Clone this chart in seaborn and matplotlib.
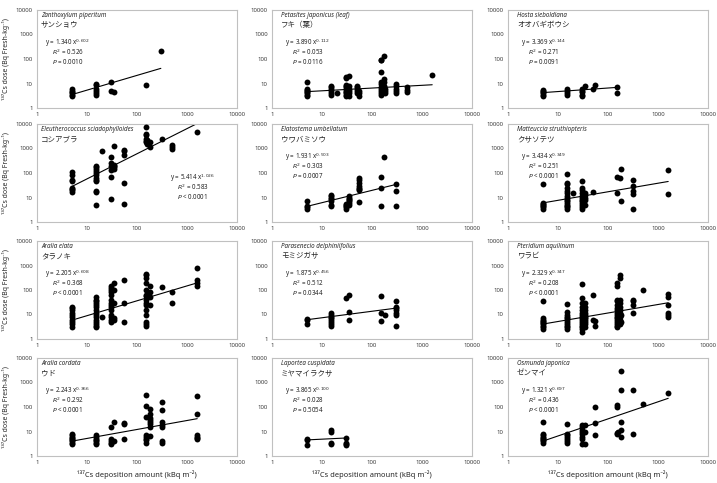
import matplotlib
matplotlib.use("Agg")
import matplotlib.pyplot as plt
import seaborn as sns
import numpy as np
import pandas as pd

zan_pts = {5: [3, 3.5, 4, 4.5, 5, 6], 15: [3.5, 4, 5, 6, 9, 10], 30: [12, 5], 35: [4.5],
           150: [9], 300: [210]}
pet_pts = {5: [3, 3.5, 4, 4.5, 5, 5.5, 6, 12], 15: [3.5, 4, 5, 6, 7, 8], 20: [4],
           30: [3, 3.5, 4, 4.5, 5, 6, 7, 8, 9, 17, 18], 35: [3, 4, 5, 6, 8, 20],
           50: [4, 5, 6, 7, 8], 55: [3, 4, 5], 150: [3.5, 4, 5, 6, 7, 10, 12, 30, 90, 95],
           170: [5, 6, 7, 8, 12, 15, 130], 180: [4, 5, 6], 300: [4, 5, 6, 8, 10],
           500: [4.5, 5.5, 7], 1600: [22]}
hos_pts = {5: [3, 3.5, 4, 4.5, 5, 5.5], 15: [3.5, 4, 5, 6], 30: [3, 3.5, 4.5, 5, 6],
           35: [8], 50: [6], 55: [9], 150: [4, 7]}
ele_pts = {5: [17, 20, 22, 25, 45, 50, 80, 110],
           15: [5, 17, 18, 45, 50, 60, 80, 100, 120, 150, 180, 200], 20: [800],
           30: [9, 70, 130, 200, 250, 450], 35: [150, 180, 200, 220, 1300],
           55: [5.5, 40, 550, 800, 900], 150: [1800, 2000, 2500, 3500, 4000, 7500],
           160: [1500, 2200], 180: [1100, 1800], 310: [2400], 500: [1000, 1200, 1400],
           1600: [4800]}
ela_pts = {5: [3.5, 4, 4.5, 7.5], 15: [4.5, 5, 7, 9, 10, 12, 13], 30: [3.5, 4, 4.5, 5, 5.5],
           35: [5, 6, 7, 8, 9, 10, 11], 55: [6.5, 20, 22, 25, 30, 40, 50, 60],
           150: [4.5, 25, 70], 170: [450], 300: [4.5, 18, 35]}
mat_pts = {5: [3.5, 4, 4.5, 5, 5.5, 6, 35],
           15: [3.5, 4, 4.5, 5, 6, 7, 8, 10, 12, 15, 18, 25, 35, 40, 90], 20: [15],
           30: [3.5, 4, 5, 6, 7, 8, 10, 12, 15, 20, 25, 45], 35: [5, 8, 10, 13, 15],
           50: [17], 150: [15, 70], 170: [60], 180: [7, 150], 310: [3.5, 14, 18, 30, 50],
           1600: [14, 130]}
ara_pts = {5: [3, 4, 5, 6, 8, 10, 12, 15, 18, 20],
           15: [3, 3.5, 4, 5, 6, 8, 10, 12, 15, 20, 25, 30, 35, 40, 50], 20: [8],
           30: [5, 6, 8, 10, 15, 20, 25, 30, 40, 60, 80, 100, 120, 150],
           35: [6, 7, 30, 100, 200], 55: [5, 30, 250],
           150: [3.5, 4, 5, 10, 15, 25, 30, 40, 55, 60, 100, 200, 300, 400, 450],
           180: [25, 50, 80, 150], 310: [130], 500: [30, 80], 1600: [150, 200, 250, 800]}
par_pts = {5: [4, 6, 6.5], 15: [3.5, 4, 5, 6, 7, 8, 10, 11], 30: [45], 35: [6, 13, 60],
           150: [5.5, 12, 55], 180: [10], 300: [3.5, 10, 12, 15, 18, 20, 35]}
pte_pts = {5: [2.5, 3, 3.5, 4, 4.5, 5, 5.5, 6, 7, 35],
           15: [2.5, 3, 3.5, 4, 5, 6, 7, 8, 10, 13, 27],
           30: [2, 2.5, 3, 3.5, 4, 5, 6, 7, 8, 10, 12, 15, 20, 30, 45, 170],
           35: [3, 4, 5, 6, 7, 8, 10, 12, 15, 20, 30], 50: [65, 6], 55: [3.5, 5.5],
           150: [3, 3.5, 4, 5, 6, 7, 8, 10, 12, 15, 18, 25, 35, 40, 150, 200],
           170: [4, 6, 8, 10, 12, 15, 20, 30, 40, 300, 400], 180: [5, 10],
           310: [12, 25, 35, 40], 500: [100], 1600: [8, 10, 12, 25, 50, 70]}
cor_pts = {5: [3, 3.5, 4, 4.5, 5, 5.5, 6, 7, 8], 15: [3, 3.5, 4, 4.5, 5, 6, 7],
           30: [3, 3.5, 4, 5, 15], 35: [4, 25], 55: [5, 20, 22],
           150: [3.5, 4.5, 5, 6, 7, 40, 110, 300], 170: [40],
           180: [6.5, 15, 20, 25, 30, 35, 50, 85], 310: [3.5, 4, 15, 18, 25, 75, 160],
           1600: [5, 5.5, 6, 7, 50, 270]}
lap_pts = {5: [2.7, 4.5, 5], 15: [3, 3.5, 10, 11], 30: [2.8, 3.2, 3.5, 5.5]}
osm_pts = {5: [3.5, 4, 4.5, 5, 5.5, 6, 7, 8, 25], 15: [3.5, 4, 5, 6, 7, 8, 20],
           30: [3, 5, 6, 8, 10, 12, 15, 18], 35: [3, 10, 18], 55: [7, 22, 100],
           150: [8, 9, 100, 120], 160: [10], 180: [6, 12, 25, 500, 3000],
           310: [8, 480], 500: [130], 1600: [380]}

latin = ["Zanthoxylum piperitum", "Petasites japonicus (leaf)", "Hosta sieboldiana",
         "Eleutherococcus sciadophylloides", "Elatostema umbellatum", "Matteuccia struthiopteris",
         "Aralia elata", "Parasenecio delphiniifolius", "Pteridium aquilinum",
         "Aralia cordata", "Laportea cuspidata", "Osmunda japonica"]
japanese = ["サンショウ", "フキ（葉）", "オオバギボウシ", "コシアブラ", "ウワバミソウ", "クサソテツ",
            "タラノキ", "モミジガサ", "ワラビ", "ウド", "ミヤマイラクサ", "ゼンマイ"]
eq_a = ["1.340", "3.890", "3.369", "5.414", "1.931", "3.434",
        "2.205", "1.875", "2.329", "2.243", "3.865", "1.321"]
eq_b = ["0.602", "0.112", "0.144", "1.026", "0.503", "0.349",
        "0.608", "0.456", "0.347", "0.366", "0.100", "0.697"]
r2 = ["0.526", "0.053", "0.271", "0.583", "0.303", "0.251",
      "0.368", "0.512", "0.208", "0.292", "0.028", "0.436"]
pval = ["= 0.0010", "= 0.0116", "= 0.0091", "< 0.0001", "= 0.0007", "< 0.0001",
        "< 0.0001", "= 0.0344", "< 0.0001", "< 0.0001", "= 0.5054", "< 0.0001"]
# trend lines as drawn (power law a * x^b)
line_a = [1.340, 3.890, 3.369, 5.414, 1.931, 3.434, 2.205, 4.0, 2.329, 2.243, 3.865, 1.321]
line_b = [0.602, 0.112, 0.144, 1.026, 0.503, 0.349, 0.608, 0.265, 0.347, 0.366, 0.100, 0.697]

all_pts = [zan_pts, pet_pts, hos_pts, ele_pts, ela_pts, mat_pts,
           ara_pts, par_pts, pte_pts, cor_pts, lap_pts, osm_pts]

sns.set_theme(style="white")
plt.rcParams["font.family"] = ["Noto Sans", "Noto Sans CJK JP", "DejaVu Sans"]

W, H = 717, 483
fig = plt.figure(figsize=(W / 100, H / 100), dpi=100)
fig.patch.set_facecolor("white")

col_left = [37, 272, 508]
row_top = [10, 124, 241, 358]
aw, ah = 200, 98
ticks = [1, 10, 100, 1000, 10000]
tick_lbl = ["1", "10", "100", "1000", "10000"]

for i, pts in enumerate(all_pts):
    r, c = divmod(i, 3)
    ax = fig.add_axes([col_left[c] / W, 1 - (row_top[r] + ah) / H, aw / W, ah / H])
    df = pd.DataFrame([(x, y) for x, ys in pts.items() for y in ys], columns=["dep", "dose"])
    sns.scatterplot(data=df, x="dep", y="dose", ax=ax, color="black", s=18,
                    linewidth=0, zorder=3)
    xs = np.geomspace(df["dep"].min(), df["dep"].max(), 50)
    sns.lineplot(x=xs, y=line_a[i] * xs ** line_b[i], ax=ax, color="black", lw=0.8)
    ax.set_xscale("log")
    ax.set_yscale("log")
    ax.set_xlim(1, 10000)
    ax.set_ylim(1, 10000)
    ax.set_xticks(ticks, labels=tick_lbl)
    ax.set_yticks(ticks, labels=tick_lbl)
    ax.minorticks_off()
    ax.tick_params(which="both", length=0, labelsize=4.4, colors="#404040", pad=3)
    for s in ax.spines.values():
        s.set_color("#c0c0c0")
        s.set_linewidth(0.8)
    ax.set_xlabel("")
    ax.set_ylabel("")
    if c == 0:
        ax.set_ylabel("¹³⁷Cs dose (Bq Fresh-kg⁻¹)", fontsize=5, labelpad=4)
    if r == 3:
        ax.set_xlabel("¹³⁷Cs deposition amount (kBq m⁻²)", fontsize=5.4, labelpad=4)

    x0 = 0.02 if c == 0 else 0.045
    ax.text(x0, 0.94, latin[i], transform=ax.transAxes, fontsize=4.5, style="italic",
            va="center", ha="left")
    ax.text(x0, 0.84, japanese[i], transform=ax.transAxes, fontsize=5.4,
            va="center", ha="left")
    if i == 3:
        ex, ey, dy = 0.665, 0.44, 0.092
    else:
        ex, ey, dy = x0 + 0.02, 0.66, 0.095
    ax.text(ex, ey, f"y = {eq_a[i]} x$^{{{eq_b[i]}}}$", transform=ax.transAxes,
            fontsize=4.5, va="center", ha="left")
    ax.text(ex + 0.035, ey - dy, f"$R^2$ = {r2[i]}", transform=ax.transAxes,
            fontsize=4.5, va="center", ha="left")
    ax.text(ex + 0.035, ey - 2 * dy, f"$P$ {pval[i]}", transform=ax.transAxes,
            fontsize=4.5, va="center", ha="left")

fig.savefig("out.png", dpi=100, facecolor="white")
